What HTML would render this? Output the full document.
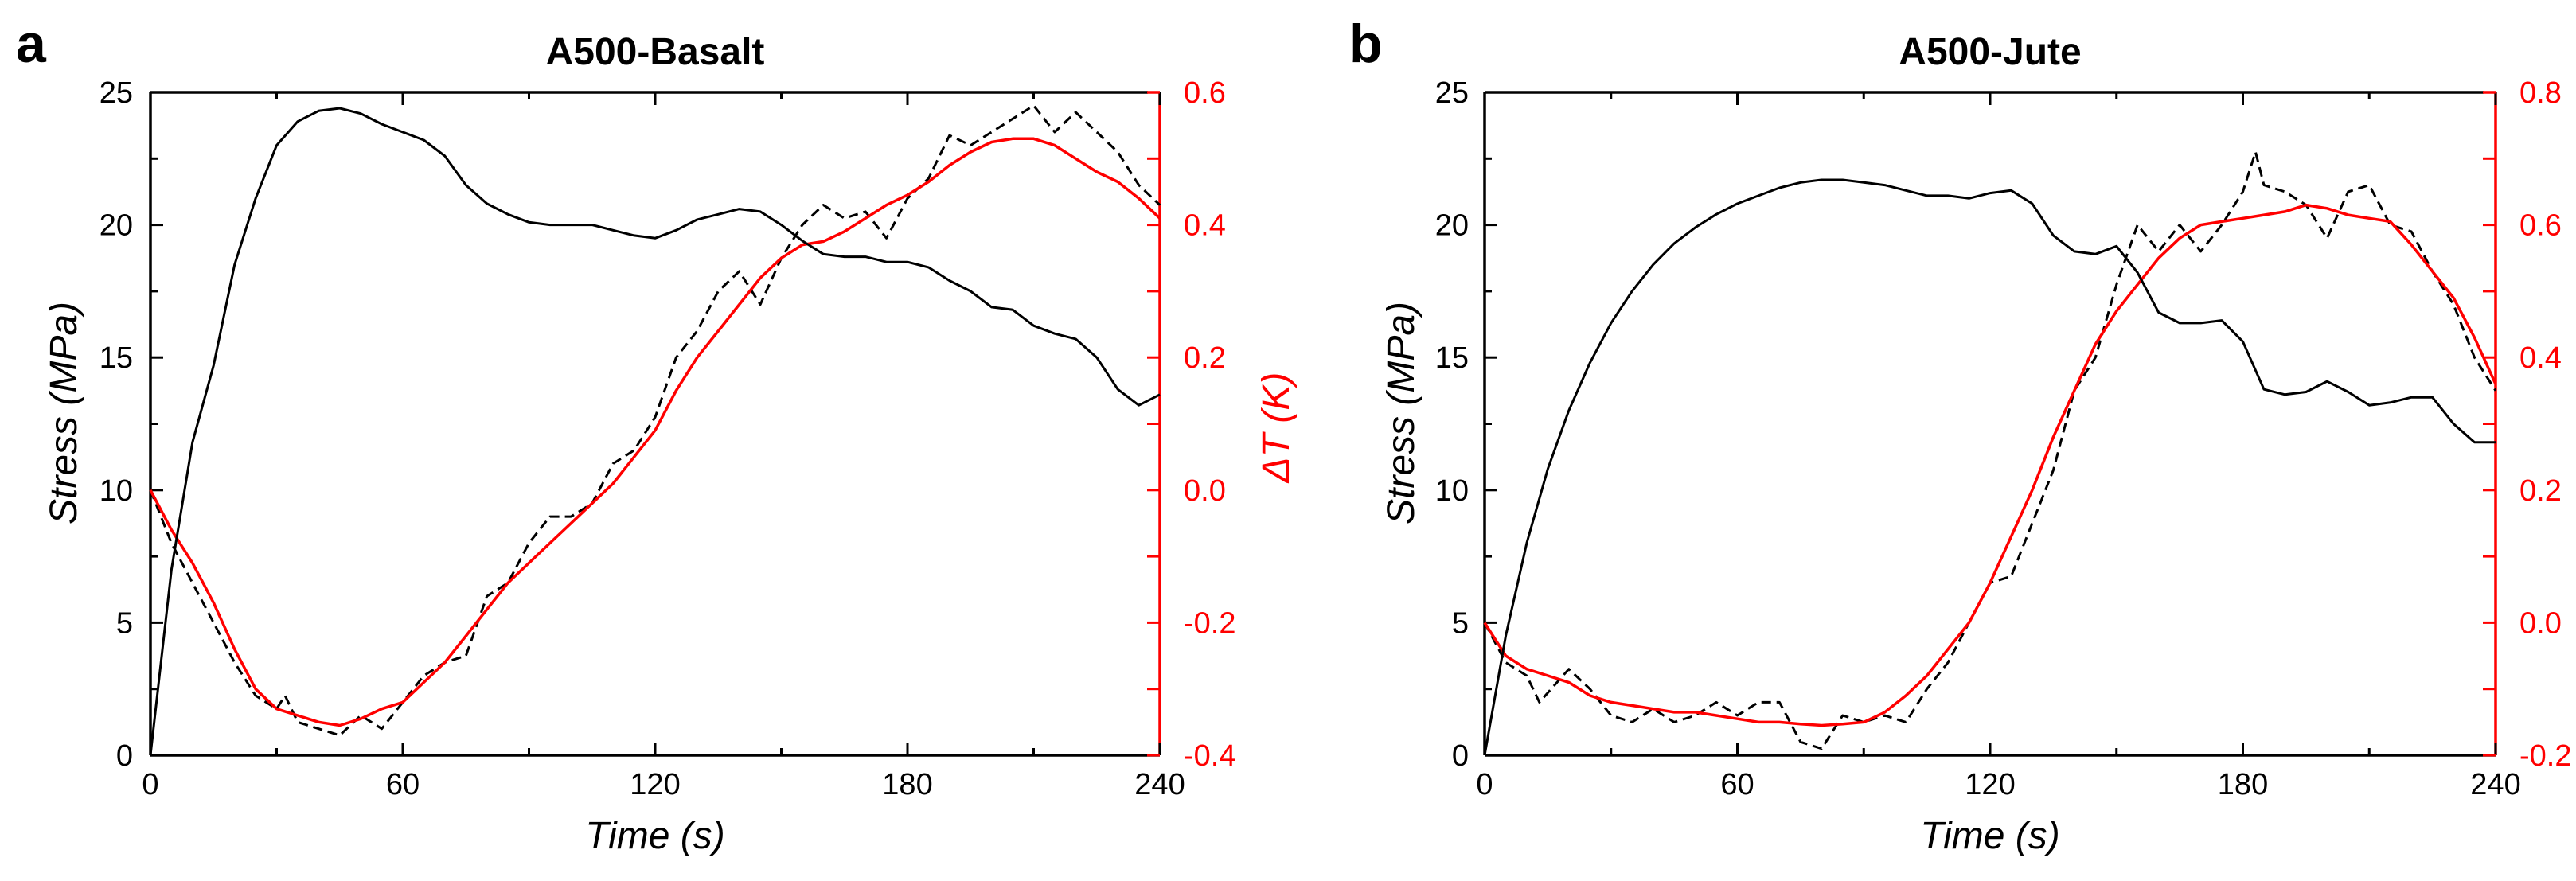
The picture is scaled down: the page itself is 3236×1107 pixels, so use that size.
<!DOCTYPE html>
<html><head><meta charset="utf-8"><style>
html,body{margin:0;padding:0;background:#fff;}
svg{display:block;font-family:"Liberation Sans",Arial,sans-serif;}
</style></head><body>
<svg id="fig" width="3236" height="1107" viewBox="0 0 3236 1107" xmlns="http://www.w3.org/2000/svg"></svg>
<script>
// ---- Panel a data (A500-Basalt) ----
const timeA = [0,5,10,15,20,25,30,35,40,45,50,55,60,65,70,75,80,85,90,95,100,105,110,115,120,125,130,135,140,145,150,155,160,165,170,175,180,185,190,195,200,205,210,215,220,225,230,235,240];
const stressA = [0,7,11.8,14.7,18.5,21,23,23.9,24.3,24.4,24.2,23.8,23.5,23.2,22.6,21.5,20.8,20.4,20.1,20.0,20.0,20.0,19.8,19.6,19.5,19.8,20.2,20.4,20.6,20.5,20.0,19.4,18.9,18.8,18.8,18.6,18.6,18.4,17.9,17.5,16.9,16.8,16.2,15.9,15.7,15.0,13.8,13.2,13.6];
const dTA = [0,-0.06,-0.11,-0.17,-0.24,-0.30,-0.33,-0.34,-0.35,-0.355,-0.345,-0.33,-0.32,-0.29,-0.26,-0.22,-0.18,-0.14,-0.11,-0.08,-0.05,-0.02,0.01,0.05,0.09,0.15,0.20,0.24,0.28,0.32,0.35,0.37,0.375,0.39,0.41,0.43,0.445,0.465,0.49,0.51,0.525,0.53,0.53,0.52,0.50,0.48,0.465,0.44,0.41];
const rawTimeA = [0,5,10,15,20,25,30,32,35,40,45,50,55,60,65,70,75,80,85,90,95,100,105,110,115,120,125,130,135,140,145,150,155,160,165,170,175,180,185,190,195,200,205,210,215,220,225,230,235,240];
const rawA = [0,-0.08,-0.14,-0.2,-0.26,-0.31,-0.33,-0.31,-0.35,-0.36,-0.37,-0.34,-0.36,-0.32,-0.28,-0.26,-0.25,-0.16,-0.14,-0.08,-0.04,-0.04,-0.02,0.04,0.06,0.11,0.2,0.24,0.3,0.33,0.28,0.35,0.4,0.43,0.41,0.42,0.38,0.44,0.47,0.535,0.52,0.54,0.56,0.58,0.54,0.57,0.54,0.51,0.46,0.43];
// ---- Panel b data (A500-Jute) ----
const timeB = timeA;
const stressB = [0,4.5,8.0,10.8,13.0,14.8,16.3,17.5,18.5,19.3,19.9,20.4,20.8,21.1,21.4,21.6,21.7,21.7,21.6,21.5,21.3,21.1,21.1,21.0,21.2,21.3,20.8,19.6,19.0,18.9,19.2,18.2,16.7,16.3,16.3,16.4,15.6,13.8,13.6,13.7,14.1,13.7,13.2,13.3,13.5,13.5,12.5,11.8,11.8];
const dTB = [0,-0.05,-0.07,-0.08,-0.09,-0.11,-0.12,-0.125,-0.13,-0.135,-0.135,-0.14,-0.145,-0.15,-0.15,-0.153,-0.155,-0.153,-0.15,-0.135,-0.11,-0.08,-0.04,0,0.06,0.13,0.2,0.28,0.35,0.42,0.47,0.51,0.55,0.58,0.6,0.605,0.61,0.615,0.62,0.63,0.625,0.615,0.61,0.605,0.57,0.53,0.49,0.43,0.36];
const rawTimeB = [0,5,10,13,20,25,30,35,40,45,50,55,60,65,70,75,80,85,90,95,100,105,110,115,120,125,130,135,140,145,150,155,160,165,170,175,180,183,185,190,195,200,205,210,215,220,225,230,235,240];
const rawB = [0,-0.06,-0.08,-0.12,-0.07,-0.1,-0.14,-0.15,-0.13,-0.15,-0.14,-0.12,-0.14,-0.12,-0.12,-0.18,-0.19,-0.14,-0.15,-0.14,-0.15,-0.1,-0.06,0,0.06,0.07,0.15,0.23,0.35,0.4,0.51,0.6,0.56,0.6,0.56,0.6,0.65,0.71,0.66,0.65,0.63,0.58,0.65,0.66,0.6,0.59,0.53,0.48,0.4,0.35];
// ---- ticks ----
const xTicks = [0,60,120,180,240];
const stressTicks = [0,5,10,15,20,25];
const dTTicksA = [-0.4,-0.2,0.0,0.2,0.4,0.6];
const dTTicksB = [-0.2,0.0,0.2,0.4,0.6,0.8];

const NS = "http://www.w3.org/2000/svg";
const svg = document.getElementById('fig');
function mk(tag, attrs, parent){
  const e = document.createElementNS(NS, tag);
  for (const k in attrs) e.setAttribute(k, attrs[k]);
  (parent||svg).appendChild(e);
  return e;
}
function panel(o){
  const g = mk('g', {});
  
  
  const L=o.L, R=o.R, T=116, B=949;
  const xs = t => L + t/240*(R-L);
  const ys = s => B - s/25*(B-T);
  const yd = d => B - (d - o.dmin)/(o.dmax - o.dmin)*(B-T);
  // letter & title
  let t = mk('text', {x:o.letterX, y:78, 'font-size':68, 'font-weight':'bold'}, g); t.textContent = o.letter;
   
  t = mk('text', {x:(L+R)/2, y:81, 'font-size':48, 'font-weight':'bold', 'text-anchor':'middle'}, g); t.textContent = o.title;
   
  // axes frame
  mk('line', {x1:L, y1:T, x2:R-15, y2:T, stroke:'#000', 'stroke-width':3.5}, g);
  mk('line', {x1:R-16, y1:T, x2:R, y2:T, stroke:'#f00', 'stroke-width':3.5}, g);
  mk('line', {x1:L, y1:B, x2:R, y2:B, stroke:'#000', 'stroke-width':3.5}, g);
  mk('line', {x1:L, y1:T, x2:L, y2:B, stroke:'#000', 'stroke-width':3.5}, g);
  const ra = mk('line', {x1:R, y1:T, x2:R, y2:B, stroke:'#f00', 'stroke-width':3.5}, g);
   
  // x ticks
  for (let v=0; v<=240; v+=30){
    const x = xs(v), len = (v%60===0)?16:9;
    mk('line', {x1:x, y1:B, x2:x, y2:B-len, stroke:'#000', 'stroke-width':3}, g);
    mk('line', {x1:x, y1:T, x2:x, y2:T+len, stroke:'#000', 'stroke-width':3}, g);
  }
  xTicks.forEach(v=>{
    const tx = mk('text', {x:xs(v), y:998, 'font-size':38, 'text-anchor':'middle'}, g); tx.textContent = v;
     
  });
  // left y ticks
  for (let v=0; v<=25; v+=2.5){
    const y = ys(v), len = (v%5===0)?16:9;
    mk('line', {x1:L, y1:y, x2:L+len, y2:y, stroke:'#000', 'stroke-width':3}, g);
  }
  stressTicks.forEach(v=>{
    const tx = mk('text', {x:o.ylabR, y:ys(v)+13, 'font-size':38, 'text-anchor':'end'}, g); tx.textContent = v;
     
  });
  // right y ticks
  const n = o.dTicks.length;
  for (let i=0; i<2*n-1; i++){
    const d = o.dmin + i*(o.dmax-o.dmin)/(2*n-2);
    const y = yd(d);
    mk('line', {x1:R, y1:y, x2:R-16, y2:y, stroke:'#f00', 'stroke-width':3}, g);
  }
  o.dTicks.forEach(v=>{
    const tx = mk('text', {x:R+30, y:yd(v)+13, 'font-size':38, fill:'#f00'}, g); tx.textContent = v.toFixed(1);
     
  });
  // axis titles
  t = mk('text', {x:(L+R)/2, y:1066, 'font-size':48, 'font-style':'italic', 'text-anchor':'middle'}, g); t.textContent = 'Time (s)';
   
  t = mk('text', {x:0, y:0, 'font-size':48, 'font-style':'italic', 'text-anchor':'middle', transform:`translate(${o.ytitleX},519) rotate(-90)`}, g); t.textContent = 'Stress (MPa)';
   
  if (o.showDT){
    t = mk('text', {x:0, y:0, 'font-size':48, 'font-style':'italic', 'text-anchor':'middle', fill:'#f00', transform:`translate(${R+162},537) rotate(-90)`}, g); t.textContent = 'ΔT (K)';
     
  }
  // series
  const pathFrom = (ts, vs, f) => ts.map((tt,i)=>(i?'L':'M')+xs(tt).toFixed(1)+','+f(vs[i]).toFixed(1)).join(' ');
  let p = mk('path', {d:pathFrom(o.rawT, o.raw, yd), fill:'none', stroke:'#000', 'stroke-width':3, 'stroke-dasharray':'12 7', 'stroke-linejoin':'round'}, g);
   
  p = mk('path', {d:pathFrom(o.t, o.dT, yd), fill:'none', stroke:'#f00', 'stroke-width':3.5, 'stroke-linejoin':'round'}, g);
   
  p = mk('path', {d:pathFrom(o.t, o.stress, ys), fill:'none', stroke:'#000', 'stroke-width':3, 'stroke-linejoin':'round'}, g);
   
}
panel({id:'a', letter:'a', letterX:20, title:'A500-Basalt', L:189, R:1457, ylabR:167, ytitleX:96,
  dmin:-0.4, dmax:0.6, dTicks:dTTicksA, t:timeA, stress:stressA, dT:dTA, rawT:rawTimeA, raw:rawA, showDT:true});
panel({id:'b', letter:'b', letterX:1695, title:'A500-Jute', L:1865, R:3135, ylabR:1845, ytitleX:1776,
  dmin:-0.2, dmax:0.8, dTicks:dTTicksB, t:timeB, stress:stressB, dT:dTB, rawT:rawTimeB, raw:rawB, showDT:false});
</script>
</body></html>
